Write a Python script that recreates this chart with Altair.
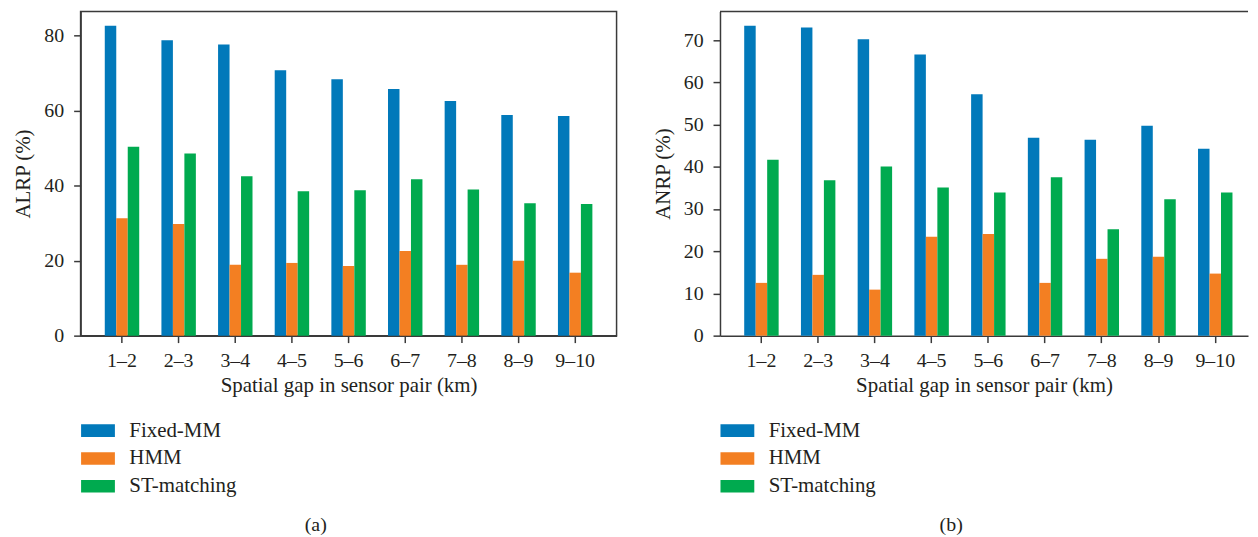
import altair as alt
import pandas as pd

gaps = ["1–2", "2–3", "3–4", "4–5", "5–6", "6–7", "7–8", "8–9", "9–10"]
methods = ["Fixed-MM", "HMM", "ST-matching"]
colors = ["#0179BA", "#F37F22", "#00AA4F"]

alrp_fixed = [82.7, 78.8, 77.7, 70.8, 68.4, 65.8, 62.6, 58.9, 58.6]
alrp_hmm = [31.3, 29.8, 18.9, 19.4, 18.6, 22.6, 18.9, 20.0, 16.8]
alrp_st = [50.4, 48.6, 42.5, 38.5, 38.8, 41.7, 39.0, 35.3, 35.1]

anrp_fixed = [73.4, 73.0, 70.2, 66.6, 57.2, 46.9, 46.4, 49.7, 44.3]
anrp_hmm = [12.5, 14.4, 10.9, 23.4, 24.1, 12.5, 18.2, 18.7, 14.7]
anrp_st = [41.7, 36.8, 40.1, 35.1, 33.9, 37.5, 25.2, 32.3, 33.9]

alrp_ticks = [0, 20, 40, 60, 80]
anrp_ticks = [0, 10, 20, 30, 40, 50, 60, 70]

FONT = "Liberation Serif"
TXT = "#231f20"
LINE = "#3a3a3a"
H = 326


def frame(series):
    rows = []
    for m, vals in zip(methods, series):
        for g, v in zip(gaps, vals):
            rows.append({"gap": g, "method": m, "value": v})
    return pd.DataFrame(rows)


def panel(df, ytitle, ydomain, yticks, width, align, pouter, caption, open_right):
    xscale = alt.Scale(paddingInner=0.392, paddingOuter=pouter, align=align)
    yscale = alt.Scale(domain=ydomain, nice=False, zero=True)
    bars = alt.Chart(df).mark_bar().encode(
        x=alt.X("gap:N", sort=gaps, scale=xscale,
                title="Spatial gap in sensor pair (km)",
                axis=alt.Axis(orient="bottom", labelAngle=0, labelPadding=8,
                              titlePadding=4)),
        xOffset=alt.XOffset("method:N", sort=methods),
        y=alt.Y("value:Q", title=ytitle, scale=yscale,
                axis=alt.Axis(values=yticks, labelPadding=10, titlePadding=10)),
        color=alt.Color("method:N", sort=methods,
                        scale=alt.Scale(domain=methods, range=colors),
                        legend=alt.Legend(
                            orient="none", legendX=0, legendY=411, title=None,
                            direction="vertical",
                            labelFontSize=21, labelFont=FONT, labelColor=TXT,
                            symbolType="M-2.5,-0.93H2.5V0.93H-2.5Z",
                            symbolSize=185, symbolStrokeWidth=0,
                            symbolOpacity=1,
                            symbolOffset=7, labelOffset=21, rowPadding=6,
                            padding=0)),
    )
    title = alt.Title(caption, orient="bottom", anchor="middle", fontSize=20,
                      font=FONT, fontWeight="normal", color=TXT, offset=18,
                      dx=-33)
    if open_right:
        top = alt.Chart(pd.DataFrame({"top": [ydomain[1]]})).mark_rule(
            color=LINE, strokeWidth=1.5
        ).encode(y=alt.Y("top:Q", scale=yscale))
        return alt.layer(bars, top).properties(
            width=width, height=H, title=title)
    return bars.properties(width=width, height=H, title=title,
                           view=alt.ViewBackground(stroke=LINE, strokeWidth=1.5))


pa = panel(frame([alrp_fixed, alrp_hmm, alrp_st]), "ALRP (%)", [0, 86.5],
           alrp_ticks, 539, 0.5, 0.427, "(a)", False)
pb = panel(frame([anrp_fixed, anrp_hmm, anrp_st]), "ANRP (%)", [0, 76.8],
           anrp_ticks, 531, 0.61, 0.35, "(b)", True)

chart = alt.hconcat(pa, pb, spacing=34).resolve_scale(
    x="independent", y="independent", color="independent"
).resolve_legend(color="independent").configure(
    font=FONT, padding={"left": 4, "top": 0, "right": 0, "bottom": 0}
).configure_view(
    stroke="transparent"
).configure_axis(
    labelFont=FONT, titleFont=FONT, labelFontSize=20, titleFontSize=21,
    labelColor=TXT, titleColor=TXT, titleFontWeight="normal",
    domainColor=LINE, tickColor=LINE, domainWidth=1.5, tickWidth=1.5,
    tickSize=7, grid=False,
)

chart.save("out.html", embed_options={"renderer": "svg", "actions": False})
